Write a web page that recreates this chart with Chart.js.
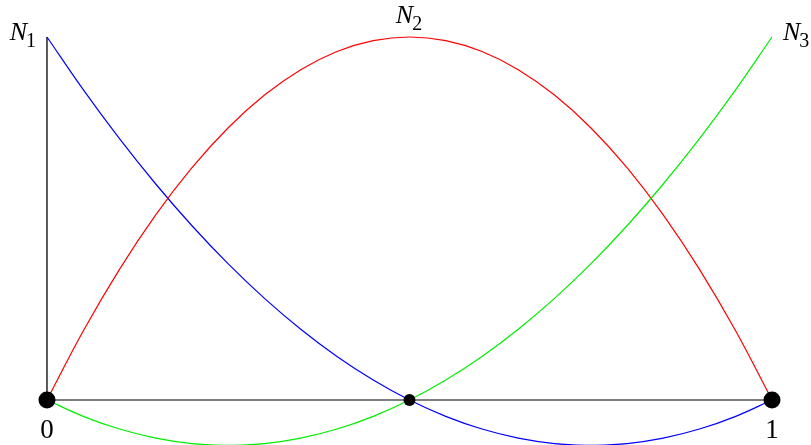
<!DOCTYPE html>
<html>
<head>
<meta charset="utf-8">
<script src="https://cdn.jsdelivr.net/npm/chart.js@4"></script>
<style>
  html, body { margin: 0; padding: 0; background: #fff; }
  #wrap { width: 811px; height: 445px; position: relative; }
</style>
</head>
<body>
<div id="wrap"><canvas id="c"></canvas></div>
<script>
/* ---- Data ---- */
const xs = [0, 0.05, 0.1, 0.15, 0.2, 0.25, 0.3, 0.35, 0.4, 0.45, 0.5,
            0.55, 0.6, 0.65, 0.7, 0.75, 0.8, 0.85, 0.9, 0.95, 1];
const n1 = [1, 0.855, 0.72, 0.595, 0.48, 0.375, 0.28, 0.195, 0.12, 0.055, 0,
            -0.045, -0.08, -0.105, -0.12, -0.125, -0.12, -0.105, -0.08, -0.045, 0];
const n2 = [0, 0.19, 0.36, 0.51, 0.64, 0.75, 0.84, 0.91, 0.96, 0.99, 1,
            0.99, 0.96, 0.91, 0.84, 0.75, 0.64, 0.51, 0.36, 0.19, 0];
const n3 = [0, -0.045, -0.08, -0.105, -0.12, -0.125, -0.12, -0.105, -0.08, -0.045, 0,
            0.055, 0.12, 0.195, 0.28, 0.375, 0.48, 0.595, 0.72, 0.855, 1];
const nodeX = [0, 0.5, 1];
const nodeR = [8.5, 6, 8.5];
const curveNames = ["N1", "N2", "N3"];
const tickLabels = ["0", "1"];

const pts = (ys) => xs.map((x, i) => ({ x, y: ys[i] }));

/* label plugin: N_i names and 0 / 1 under the end nodes */
const labelPlugin = {
  id: "labels",
  afterDatasetsDraw(chart) {
    const { ctx, scales: { x, y } } = chart;
    const font = '"Liberation Serif", "DejaVu Serif", serif';
    const put = (name, px, py, align) => {
      ctx.save();
      ctx.fillStyle = "#000";
      ctx.textBaseline = "alphabetic";
      ctx.font = "italic 26px " + font;
      const wN = ctx.measureText("N").width;
      ctx.font = "20px " + font;
      const wS = ctx.measureText(name.slice(1)).width;
      let left = px;
      if (align === "right") left = px - wN - wS;
      if (align === "center") left = px - (wN + wS) / 2;
      ctx.font = "italic 26px " + font;
      ctx.fillText("N", left, py);
      ctx.font = "20px " + font;
      ctx.fillText(name.slice(1), left + wN - 1, py + 7);
      ctx.restore();
    };
    put(curveNames[0], x.getPixelForValue(0) - 10, y.getPixelForValue(1) + 3, "right");
    put(curveNames[1], x.getPixelForValue(0.5), y.getPixelForValue(1) - 14, "center");
    put(curveNames[2], x.getPixelForValue(1) + 11, y.getPixelForValue(1) + 3, "left");

    ctx.save();
    ctx.fillStyle = "#000";
    ctx.font = '27px ' + font;
    ctx.textAlign = "center";
    ctx.textBaseline = "alphabetic";
    ctx.fillText(tickLabels[0], x.getPixelForValue(0), y.getPixelForValue(0) + 38);
    ctx.fillText(tickLabels[1], x.getPixelForValue(1), y.getPixelForValue(0) + 38);
    ctx.restore();
  },
};

const lineOpts = (color, width) => ({
  borderColor: color,
  borderWidth: width,
  pointRadius: 0,
  showLine: true,
  tension: 0.4,
  fill: false,
  clip: false,
});

new Chart(document.getElementById("c"), {
  type: "scatter",
  data: {
    datasets: [
      { data: [{ x: 0, y: 0 }, { x: 1, y: 0 }], ...lineOpts("#7f7f7f", 2), tension: 0, order: 5 },
      { data: [{ x: 0, y: 0 }, { x: 0, y: 1 }], ...lineOpts("#000", 1.3), tension: 0, order: 4 },
      { label: curveNames[0], data: pts(n1), ...lineOpts("#0000ff", 1.2), order: 3 },
      { label: curveNames[1], data: pts(n2), ...lineOpts("#ff0000", 1.2), order: 2 },
      { label: curveNames[2], data: pts(n3), ...lineOpts("#00ee00", 1.2), order: 1 },
      {
        data: nodeX.map((x) => ({ x, y: 0 })),
        showLine: false,
        pointRadius: nodeR,
        pointBackgroundColor: "#000",
        pointBorderColor: "#000",
        pointBorderWidth: 0,
        clip: false,
        order: 0,
      },
    ],
  },
  options: {
    responsive: true,
    maintainAspectRatio: false,
    animation: false,
    layout: { padding: 0, autoPadding: false },
    plugins: { legend: { display: false }, tooltip: { enabled: false } },
    scales: {
      x: { type: "linear", display: false, min: -0.0648, max: 1.0538 },
      y: { type: "linear", display: false, min: -0.124, max: 1.1019 },
    },
  },
  plugins: [labelPlugin],
});
</script>
</body>
</html>
